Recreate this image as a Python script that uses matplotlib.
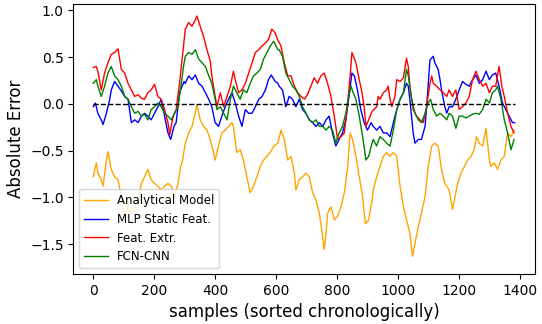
import numpy as np
import matplotlib
matplotlib.use("Agg")
import matplotlib.pyplot as plt

# values (sample index, error)
analytical_idx = [0, 10, 15, 26, 32, 43, 48, 59, 70, 81, 92, 103, 114, 125, 136, 147, 158, 168, 179, 190,
                  201, 212, 223, 234, 245, 256, 267, 278, 286, 293, 302, 313, 324, 335, 340, 351, 362, 373, 384, 395,
                  400, 411, 422, 433, 444, 455, 460, 471, 482, 493, 504, 515, 526, 537, 548, 559, 570, 581, 592, 606,
                  616, 627, 638, 649, 660, 665, 676, 687, 698, 709, 720, 731, 742, 750, 758, 764, 769, 780, 791, 802,
                  813, 824, 835, 843, 851, 862, 873, 884, 893, 904, 915, 919, 930, 941, 952, 963, 974, 985, 996, 1007,
                  1018, 1028, 1039, 1048, 1056, 1067, 1077, 1089, 1099, 1111, 1121, 1132, 1143, 1154, 1168, 1179, 1185, 1196, 1207, 1218,
                  1229, 1240, 1250, 1258, 1267, 1278, 1289, 1300, 1305, 1316, 1327, 1338, 1349, 1360, 1371, 1381]
analytical_err = [-0.78, -0.63, -0.74, -0.81, -0.88, -0.60, -0.51, -0.70, -0.78, -0.81, -0.99, -1.20, -1.10, -1.17, -1.10, -1.03, -0.85, -0.78, -0.70, -0.81,
                  -0.85, -0.88, -0.92, -0.88, -0.85, -0.88, -0.99, -0.85, -0.68, -0.60, -0.42, -0.31, -0.24, -0.09, -0.01, -0.17, -0.24, -0.28, -0.38, -0.52,
                  -0.60, -0.45, -0.31, -0.28, -0.24, -0.20, -0.24, -0.52, -0.49, -0.60, -0.78, -0.95, -0.88, -0.78, -0.67, -0.60, -0.56, -0.52, -0.45, -0.42,
                  -0.28, -0.38, -0.60, -0.56, -0.74, -0.92, -0.81, -0.78, -0.74, -0.78, -0.95, -1.03, -1.17, -1.35, -1.56, -1.38, -1.17, -1.10, -1.24, -1.20,
                  -1.10, -0.95, -0.67, -0.31, -0.38, -0.56, -0.78, -0.99, -1.28, -1.24, -1.03, -0.92, -0.78, -0.67, -0.56, -0.52, -0.56, -0.52, -0.56, -0.88,
                  -1.10, -1.24, -1.38, -1.63, -1.49, -1.31, -1.17, -0.99, -0.67, -0.45, -0.42, -0.45, -0.70, -0.85, -0.92, -1.13, -1.03, -0.85, -0.74, -0.67,
                  -0.60, -0.56, -0.49, -0.35, -0.42, -0.45, -0.26, -0.60, -0.67, -0.63, -0.70, -0.60, -0.56, -0.31, -0.35, -0.28]

mlp_idx = [0, 7, 15, 26, 32, 43, 54, 59, 70, 81, 92, 103, 114, 125, 136, 147, 158, 168, 179, 190,
           201, 212, 223, 234, 245, 254, 265, 272, 283, 298, 302, 313, 324, 335, 346, 357, 368, 379, 389, 400,
           411, 422, 433, 444, 455, 466, 477, 488, 499, 510, 521, 532, 543, 554, 565, 575, 584, 597, 606, 610,
           621, 632, 643, 654, 665, 676, 687, 698, 709, 720, 731, 742, 753, 764, 774, 785, 796, 807, 818, 829,
           838, 849, 857, 867, 878, 889, 900, 912, 919, 930, 941, 952, 963, 974, 985, 996, 1007, 1018, 1028, 1034,
           1039, 1050, 1056, 1067, 1077, 1089, 1096, 1105, 1116, 1121, 1132, 1138, 1143, 1154, 1160, 1168, 1179, 1190, 1201, 1212,
           1223, 1234, 1245, 1256, 1267, 1278, 1289, 1300, 1310, 1321, 1332, 1343, 1354, 1365, 1376, 1383]
mlp_err = [-0.03, 0.01, -0.10, -0.17, -0.22, -0.10, 0.05, 0.15, 0.24, 0.19, 0.14, 0.08, 0.05, -0.20, -0.17, -0.20, -0.13, -0.10, -0.13, -0.17,
           -0.10, -0.03, 0.05, -0.13, -0.31, -0.38, -0.24, -0.20, 0.12, 0.24, 0.22, 0.30, 0.26, 0.31, 0.22, 0.19, 0.12, 0.05, -0.03, -0.20,
           -0.24, -0.13, -0.03, 0.05, 0.12, 0.01, -0.13, -0.24, -0.06, -0.10, -0.10, -0.03, 0.05, 0.08, 0.15, 0.26, 0.31, 0.24, 0.22, 0.19,
           0.15, -0.03, 0.08, 0.05, -0.03, 0.05, -0.06, -0.10, -0.17, -0.20, -0.24, -0.20, -0.24, -0.17, -0.13, -0.31, -0.45, -0.38, -0.31, -0.17,
           0.05, 0.33, 0.30, 0.15, -0.06, -0.20, -0.28, -0.20, -0.24, -0.28, -0.24, -0.31, -0.31, -0.35, -0.20, -0.06, 0.05, 0.12, 0.22, 0.19,
           0.05, -0.31, -0.42, -0.38, -0.38, -0.24, 0.05, 0.47, 0.51, 0.44, 0.37, 0.26, 0.15, -0.03, -0.10, -0.03, -0.03, 0.05, 0.15, 0.24,
           0.21, 0.19, 0.26, 0.31, 0.22, 0.26, 0.35, 0.26, 0.31, 0.33, 0.19, 0.01, -0.06, -0.13, -0.20, -0.20]

feat_idx = [0, 10, 15, 26, 37, 48, 59, 70, 81, 92, 103, 114, 125, 136, 147, 158, 168, 179, 190, 201,
            212, 223, 234, 245, 251, 262, 272, 283, 289, 296, 302, 313, 324, 335, 340, 351, 362, 373, 384, 389,
            400, 406, 417, 428, 439, 450, 460, 466, 477, 488, 499, 510, 521, 532, 543, 554, 565, 575, 586, 597,
            606, 616, 627, 638, 649, 660, 671, 682, 693, 703, 714, 725, 736, 747, 758, 769, 780, 791, 802, 813,
            824, 835, 843, 849, 862, 873, 882, 889, 895, 904, 915, 930, 935, 941, 952, 963, 968, 974, 980, 990,
            996, 1007, 1018, 1028, 1034, 1039, 1045, 1050, 1061, 1072, 1083, 1094, 1105, 1111, 1116, 1127, 1138, 1149, 1160, 1168,
            1179, 1190, 1201, 1212, 1223, 1234, 1245, 1256, 1267, 1278, 1289, 1300, 1310, 1321, 1332, 1341, 1349, 1360, 1371, 1381]
feat_err = [0.39, 0.40, 0.35, 0.15, 0.33, 0.44, 0.53, 0.55, 0.59, 0.37, 0.33, 0.22, 0.15, 0.08, 0.10, 0.06, 0.05, 0.12, 0.15, 0.21,
            0.08, 0.05, -0.06, -0.20, -0.33, -0.13, -0.06, 0.22, 0.40, 0.62, 0.80, 0.87, 0.83, 0.90, 0.94, 0.83, 0.72, 0.58, 0.46, 0.30,
            0.08, -0.03, 0.12, -0.03, 0.08, 0.19, 0.35, 0.26, 0.12, 0.15, 0.22, 0.33, 0.44, 0.55, 0.58, 0.62, 0.65, 0.69, 0.80, 0.76,
            0.68, 0.62, 0.44, 0.30, 0.30, 0.19, 0.12, 0.08, 0.05, 0.10, 0.19, 0.28, 0.22, 0.30, 0.33, 0.22, 0.08, -0.13, -0.38, -0.35,
            -0.31, 0.01, 0.30, 0.55, 0.44, 0.26, 0.12, -0.03, -0.24, -0.17, -0.08, -0.03, 0.08, 0.05, 0.12, 0.15, 0.19, 0.05, -0.03, 0.08,
            0.26, 0.24, 0.28, 0.49, 0.40, 0.19, 0.05, -0.06, -0.13, -0.17, -0.20, -0.03, 0.22, 0.30, 0.22, 0.19, 0.15, 0.12, 0.08, 0.15,
            0.08, 0.15, -0.06, -0.03, 0.01, 0.08, 0.26, 0.35, 0.26, 0.19, 0.22, 0.12, 0.19, 0.19, 0.40, 0.19, 0.08, -0.10, -0.24, -0.31]

fcn_idx = [0, 10, 15, 26, 37, 48, 59, 70, 81, 92, 103, 114, 125, 136, 147, 158, 168, 179, 190, 201,
           212, 223, 234, 245, 256, 267, 278, 289, 296, 302, 313, 324, 335, 346, 357, 368, 379, 389, 400, 406,
           417, 428, 439, 450, 460, 471, 482, 493, 504, 515, 526, 537, 548, 559, 570, 581, 592, 606, 610, 621,
           632, 643, 654, 665, 676, 687, 698, 709, 720, 731, 742, 753, 764, 774, 785, 796, 807, 818, 829, 838,
           846, 853, 862, 873, 884, 895, 904, 915, 919, 930, 941, 952, 963, 974, 985, 996, 1007, 1018, 1028, 1034,
           1045, 1056, 1067, 1077, 1089, 1099, 1107, 1116, 1127, 1138, 1149, 1160, 1168, 1179, 1190, 1201, 1212, 1223, 1234, 1245,
           1256, 1267, 1278, 1289, 1300, 1310, 1321, 1327, 1338, 1349, 1360, 1371, 1381]
fcn_err = [0.22, 0.26, 0.19, 0.08, 0.19, 0.33, 0.40, 0.30, 0.26, 0.19, 0.08, 0.05, -0.03, -0.10, -0.08, -0.13, -0.11, -0.17, -0.06, -0.03,
           0.01, -0.03, -0.10, -0.13, -0.17, -0.10, -0.03, 0.22, 0.40, 0.51, 0.55, 0.53, 0.58, 0.48, 0.44, 0.40, 0.30, 0.22, 0.05, -0.06,
           -0.03, -0.10, -0.17, 0.05, 0.19, 0.12, 0.05, 0.15, 0.12, 0.22, 0.30, 0.33, 0.37, 0.48, 0.55, 0.62, 0.67, 0.58, 0.58, 0.51,
           0.33, 0.26, 0.19, 0.15, 0.08, -0.03, -0.10, -0.17, -0.20, -0.17, -0.24, -0.24, -0.28, -0.24, -0.28, -0.42, -0.31, -0.24, -0.10, 0.08,
           0.19, 0.12, 0.05, -0.13, -0.35, -0.60, -0.56, -0.42, -0.38, -0.45, -0.35, -0.38, -0.42, -0.45, -0.28, -0.06, 0.05, 0.12, 0.37, 0.30,
           0.05, -0.10, -0.17, -0.20, -0.10, 0.01, 0.05, -0.06, -0.13, -0.10, -0.13, -0.17, -0.10, -0.13, -0.26, -0.13, -0.13, -0.15, -0.13, -0.11,
           -0.10, -0.11, -0.06, 0.05, 0.01, 0.12, 0.15, 0.19, 0.05, -0.17, -0.31, -0.49, -0.38]

n_samples = 1383

fig = plt.figure(figsize=(5.42, 3.24), dpi=100)
ax = fig.add_axes([0.1356, 0.154, 0.851, 0.834])

ax.plot(analytical_idx, analytical_err, color="orange", lw=1.0, label="Analytical Model")
ax.plot(mlp_idx, mlp_err, color="blue", lw=1.0, label="MLP Static Feat.")
ax.plot(feat_idx, feat_err, color="red", lw=1.0, label="Feat. Extr.")
ax.plot(fcn_idx, fcn_err, color="green", lw=1.0, label="FCN-CNN")
ax.plot([0, n_samples], [0, 0], "k--", lw=1.0)

ax.set_xlim(-65, 1449)
ax.set_ylim(-1.82, 1.07)
ax.tick_params(labelsize=10)
ax.set_xlabel("samples (sorted chronologically)", fontsize=12)
ax.set_ylabel("Absolute Error", fontsize=12)
ax.legend(loc="lower left", fontsize=8.5)

fig.savefig("out.png", dpi=100)
